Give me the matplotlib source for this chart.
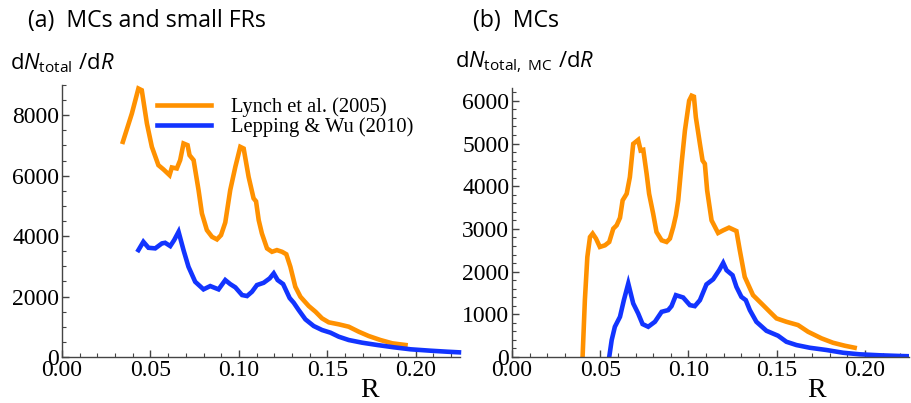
import matplotlib
matplotlib.use("Agg")
import matplotlib.pyplot as plt
from matplotlib.ticker import MultipleLocator

plt.rcParams["mathtext.fontset"] = "custom"
plt.rcParams["mathtext.rm"] = "Open Sans"
plt.rcParams["mathtext.it"] = "Open Sans:italic"

# ---- (a) MCs and small FRs ----
a_lynch_R = [0.0344, 0.0395, 0.0432, 0.0451, 0.048, 0.0508, 0.0545, 0.0574, 0.0608,
             0.0621, 0.0649, 0.0668, 0.0687, 0.071, 0.0721, 0.0744, 0.0772, 0.0791,
             0.0819, 0.0848, 0.0876, 0.0899, 0.0923, 0.0951, 0.098, 0.1008, 0.1027,
             0.1055, 0.1083, 0.1097, 0.1112, 0.113, 0.1159, 0.1187, 0.1215, 0.1244,
             0.1268, 0.1291, 0.1319, 0.1348, 0.1395, 0.1433, 0.147, 0.1508, 0.1565,
             0.1621, 0.1678, 0.1734, 0.18, 0.1867, 0.1942]
a_lynch_N = [7118, 8057, 8883, 8827, 7726, 6953, 6347, 6205, 6017,
             6271, 6238, 6513, 7065, 7009, 6678, 6513, 5521, 4750,
             4199, 3977, 3891, 4033, 4450, 5521, 6293, 6953, 6898,
             5960, 5250, 5150, 4529, 4089, 3593, 3481, 3537, 3481,
             3400, 2986, 2324, 1993, 1686, 1498, 1279, 1147, 1081,
             1002, 836, 694, 562, 453, 397]

a_lepp_R = [0.0432, 0.046, 0.0489, 0.0527, 0.0565, 0.0583, 0.0612, 0.0634, 0.0659,
            0.0687, 0.0715, 0.0753, 0.08, 0.0838, 0.0885, 0.0923, 0.0951, 0.098,
            0.1018, 0.1046, 0.1074, 0.1102, 0.114, 0.1174, 0.1197, 0.1219, 0.1250,
            0.1287, 0.131, 0.1338, 0.1376, 0.1423, 0.147, 0.1518, 0.1565, 0.1621,
            0.1697, 0.1782, 0.1876, 0.197, 0.2084, 0.2178, 0.2244]
a_lepp_N = [3537, 3812, 3614, 3594, 3759, 3779, 3670, 3868, 4143,
            3537, 2986, 2489, 2238, 2347, 2238, 2546, 2413, 2304,
            2050, 2017, 2159, 2380, 2456, 2601, 2767, 2546, 2413,
            1950, 1795, 1554, 1246, 1025, 893, 804, 671, 562,
            473, 397, 321, 255, 208, 175, 155]

# ---- (b) MCs ----
b_lynch_R = [0.04, 0.0413, 0.0427, 0.0442, 0.0457, 0.0476, 0.0498, 0.0527, 0.0551,
             0.0574, 0.0593, 0.0612, 0.0627, 0.065, 0.0668, 0.0687, 0.0715, 0.0729,
             0.0744, 0.0763, 0.0777, 0.08, 0.0819, 0.0848, 0.0876, 0.0895, 0.0914,
             0.0929, 0.0942, 0.0961, 0.098, 0.1004, 0.1018, 0.1031, 0.1042, 0.1065,
             0.108, 0.1093, 0.1106, 0.1131, 0.1168, 0.1197, 0.123, 0.1272, 0.1291,
             0.1319, 0.1366, 0.1423, 0.1461, 0.1499, 0.1555, 0.1621, 0.1678, 0.1754,
             0.1819, 0.1886, 0.1942]
b_lynch_N = [0, 1331, 2343, 2810, 2890, 2773, 2577, 2616, 2694,
             3006, 3084, 3260, 3668, 3824, 4212, 4992, 5085, 4836,
             4852, 4291, 3824, 3357, 2927, 2733, 2694, 2773, 3044,
             3317, 3668, 4525, 5303, 6004, 6120, 6097, 5613, 4992,
             4602, 4525, 3901, 3200, 2904, 2967, 3030, 2950, 2500,
             1876, 1448, 1215, 1058, 904, 825, 748, 591, 437,
             334, 264, 217]

b_lepp_R = [0.0551, 0.0565, 0.0583, 0.0612, 0.0634, 0.0659, 0.0687, 0.0715, 0.074,
            0.0772, 0.081, 0.0848, 0.0885, 0.0904, 0.0929, 0.097, 0.1008, 0.1036,
            0.1065, 0.1102, 0.114, 0.1174, 0.1197, 0.1216, 0.125, 0.1272, 0.13,
            0.1325, 0.1348, 0.1385, 0.1442, 0.1508, 0.1555, 0.1612, 0.1687, 0.1782,
            0.1876, 0.197, 0.2084, 0.2204, 0.2250]
b_lepp_N = [0, 397, 708, 941, 1331, 1721, 1254, 1020, 771,
            708, 825, 1058, 1098, 1191, 1448, 1394, 1215, 1191,
            1331, 1700, 1820, 2032, 2203, 2032, 1915, 1642, 1409,
            1331, 1098, 825, 614, 498, 357, 280, 217, 164,
            100, 63, 40, 23, 18]

ORANGE = "#FF9100"
BLUE = "#1234FF"
SERIF = "Liberation Serif"
SANS = "Open Sans"

fig = plt.figure(figsize=(9.11, 4.03), dpi=100)
axA = fig.add_axes([62 / 911, 46 / 403, 398 / 911, 272 / 403])
axB = fig.add_axes([512 / 911, 46 / 403, 397 / 911, 269 / 403])


def style(ax, ymax, ymajor, yminor):
    ax.set_xlim(0, 0.225)
    ax.set_ylim(0, ymax)
    for s in ["top", "right"]:
        ax.spines[s].set_visible(False)
    for s in ["left", "bottom"]:
        ax.spines[s].set_color("#444444")
        ax.spines[s].set_linewidth(1.0)
    ax.xaxis.set_major_locator(MultipleLocator(0.05))
    ax.xaxis.set_minor_locator(MultipleLocator(0.01))
    ax.yaxis.set_major_locator(MultipleLocator(ymajor))
    ax.yaxis.set_minor_locator(MultipleLocator(yminor))
    ax.tick_params(which="major", direction="in", length=5, width=1,
                   color="#444444", labelsize=17, pad=2)
    ax.tick_params(which="minor", direction="in", length=3, width=0.8,
                   color="#444444")
    ax.xaxis.set_major_formatter(plt.FuncFormatter(lambda v, p: f"{v:.2f}"))
    for lab in ax.get_xticklabels() + ax.get_yticklabels():
        lab.set_fontfamily(SERIF)


axA.plot(a_lynch_R, a_lynch_N, color=ORANGE, lw=3.3, label="Lynch et al. (2005)",
         solid_joinstyle="miter", clip_on=False)
axA.plot(a_lepp_R, a_lepp_N, color=BLUE, lw=3.3, label="Lepping & Wu (2010)",
         solid_joinstyle="miter", clip_on=False)
style(axA, 9000, 2000, 500)

axB.plot(b_lynch_R, b_lynch_N, color=ORANGE, lw=3.3, solid_joinstyle="miter")
axB.plot(b_lepp_R, b_lepp_N, color=BLUE, lw=3.3, solid_joinstyle="miter")
style(axB, 6300, 1000, 200)

leg = axA.legend(loc="upper left", bbox_to_anchor=(0.218, 0.985), frameon=False,
                 prop={"family": SERIF, "size": 14.8}, handlelength=2.65,
                 handletextpad=0.95, labelspacing=0.0, borderaxespad=0)

# panel titles and axis labels
fig.text(28 / 911, 1 - 27 / 403, "(a)  MCs and small FRs", family=SANS, size=16.7,
         ha="left", va="baseline")
fig.text(473 / 911, 1 - 27 / 403, "(b)  MCs", family=SANS, size=16.7,
         ha="left", va="baseline")
fig.text(10 / 911, 1 - 69 / 403, r"$\mathrm{d}N_{\mathrm{total}}\ /\mathrm{d}R$",
         size=15.8, ha="left", va="baseline")
fig.text(455 / 911, 1 - 67 / 403, r"$\mathrm{d}N_{\mathrm{total,\ MC}}\ /\mathrm{d}R$",
         size=15.8, ha="left", va="baseline")
fig.text(370 / 911, 1 - 397 / 403, "R", family=SERIF, size=20, ha="center",
         va="baseline")
fig.text(817 / 911, 1 - 397 / 403, "R", family=SERIF, size=20, ha="center",
         va="baseline")

fig.savefig("out.png", dpi=100)
